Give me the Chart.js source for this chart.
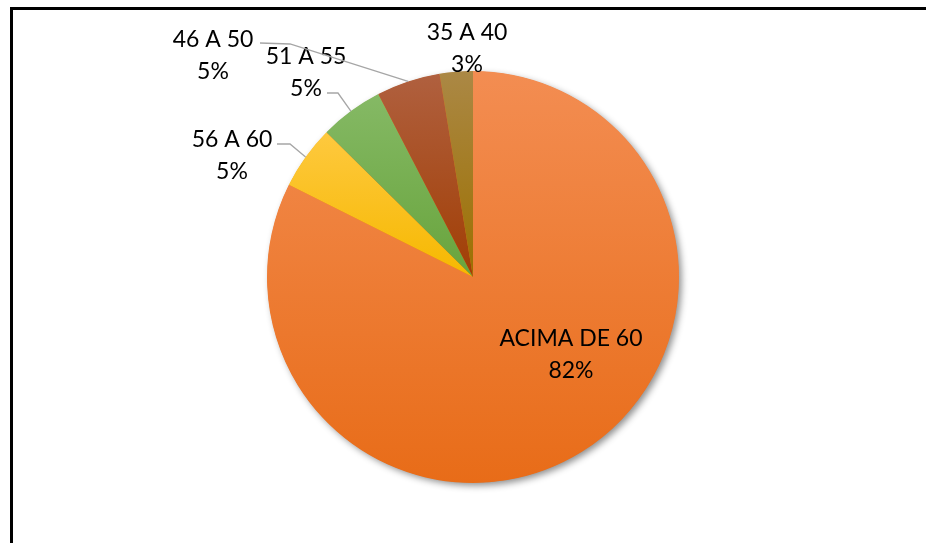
<!DOCTYPE html>
<html>
<head>
<meta charset="utf-8">
<script src="https://cdn.jsdelivr.net/npm/chart.js@4/dist/chart.umd.min.js"></script>
<style>
  html, body { margin: 0; padding: 0; background: #fff; overflow: hidden; }
  #frame { position: absolute; left: 10px; top: 7px; width: 1000px; height: 600px;
           border-left: 3px solid #000; border-top: 3px solid #000; box-sizing: border-box; }
  #wrap { position: absolute; left: 0; top: 0; width: 926px; height: 543px; }
</style>
</head>
<body>
<div id="frame"></div>
<div id="wrap"><canvas id="c" width="926" height="543"></canvas></div>
<script>
// ---- data ----
const categories = ["ACIMA DE 60", "56 A 60", "51 A 55", "46 A 50", "35 A 40"];
const shares = [82.4, 5.0, 5.0, 5.0, 2.6];
const percentLabels = ["82%", "5%", "5%", "5%", "3%"];

// ---- styles ----
const topColors = ["#F38D52", "#FEC93F", "#85B965", "#B0603F", "#AB8845"];
const bottomColors = ["#E86C18", "#F6B800", "#68A43C", "#A13E04", "#9C7000"];
const FONT = "Lato, 'Open Sans', sans-serif";
const FONT_SIZE = 23;
const LINE_GAP = 32;
// label layout relative to pie centre (pixels): text centre, leader start, leader elbow
const labelLayout = [
  { dx: 98, dy: 62, leader: null },
  { dx: -241, dy: -137, leader: [[-196, -133], [-183, -133]] },
  { dx: -167, dy: -220, leader: [[-146, -184], [-135, -184]] },
  { dx: -260, dy: -237, leader: [[-213, -234], [-183, -233]] },
  { dx: -6, dy: -244, leader: null }
];

function sliceGradient(context) {
  const chart = context.chart;
  const area = chart.chartArea;
  const i = context.dataIndex;
  if (!area) return bottomColors[i];
  const cx = (area.left + area.right) / 2, cy = (area.top + area.bottom) / 2;
  const r = Math.min(area.right - area.left, area.bottom - area.top) / 2;
  const total = shares.reduce((a, b) => a + b, 0);
  let s = 0;
  for (let k = 0; k < i; k++) s += shares[k];
  const a0 = -Math.PI / 2 + 2 * Math.PI * s / total;
  const a1 = a0 + 2 * Math.PI * shares[i] / total;
  let ys = [cy, cy + r * Math.sin(a0), cy + r * Math.sin(a1)];
  for (const ext of [-Math.PI / 2, Math.PI / 2, 3 * Math.PI / 2]) {
    if (ext >= a0 && ext <= a1) ys.push(cy + r * Math.sin(ext));
  }
  const y0 = Math.min(...ys), y1 = Math.max(...ys);
  const g = chart.ctx.createLinearGradient(0, y0, 0, y1 + 0.01);
  g.addColorStop(0, topColors[i]);
  g.addColorStop(1, bottomColors[i]);
  return g;
}

const shadowPlugin = {
  id: 'shadow',
  beforeDatasetsDraw(chart) {
    const meta = chart.getDatasetMeta(0);
    const el = meta.data[0];
    if (!el) return;
    const ctx = chart.ctx;
    ctx.save();
    ctx.shadowColor = 'rgba(0,0,0,0.45)';
    ctx.shadowBlur = 7;
    ctx.shadowOffsetX = 3;
    ctx.shadowOffsetY = 3;
    ctx.fillStyle = '#E86C18';
    ctx.beginPath();
    ctx.arc(el.x, el.y, el.outerRadius - 0.5, 0, Math.PI * 2);
    ctx.fill();
    ctx.restore();
  }
};

const labelPlugin = {
  id: 'pieLabels',
  afterDatasetsDraw(chart) {
    const ctx = chart.ctx;
    const meta = chart.getDatasetMeta(0);
    ctx.save();
    ctx.font = FONT_SIZE + "px " + FONT;
    ctx.fillStyle = "#000";
    ctx.textAlign = "center";
    ctx.textBaseline = "middle";
    meta.data.forEach((arc, i) => {
      const L = labelLayout[i];
      const cx = arc.x, cy = arc.y;
      if (L.leader) {
        const mid = (arc.startAngle + arc.endAngle) / 2;
        const rx = cx + arc.outerRadius * Math.cos(mid);
        const ry = cy + arc.outerRadius * Math.sin(mid);
        ctx.strokeStyle = "#A6A6A6";
        ctx.lineWidth = 1.3;
        ctx.beginPath();
        ctx.moveTo(cx + L.leader[0][0], cy + L.leader[0][1]);
        ctx.lineTo(cx + L.leader[1][0], cy + L.leader[1][1]);
        ctx.lineTo(rx, ry);
        ctx.stroke();
      }
      ctx.fillText(categories[i], cx + L.dx, cy + L.dy);
      ctx.fillText(percentLabels[i], cx + L.dx, cy + L.dy + LINE_GAP);
    });
    ctx.restore();
  }
};

new Chart(document.getElementById('c'), {
  type: 'pie',
  data: {
    labels: categories,
    datasets: [{
      data: shares,
      backgroundColor: sliceGradient,
      borderWidth: 0,
      hoverOffset: 0
    }]
  },
  options: {
    responsive: false,
    animation: false,
    events: [],
    layout: { padding: { left: 267, right: 247, top: 71, bottom: 60 } },
    plugins: { legend: { display: false }, tooltip: { enabled: false } }
  },
  plugins: [shadowPlugin, labelPlugin]
});
</script>
</body>
</html>
